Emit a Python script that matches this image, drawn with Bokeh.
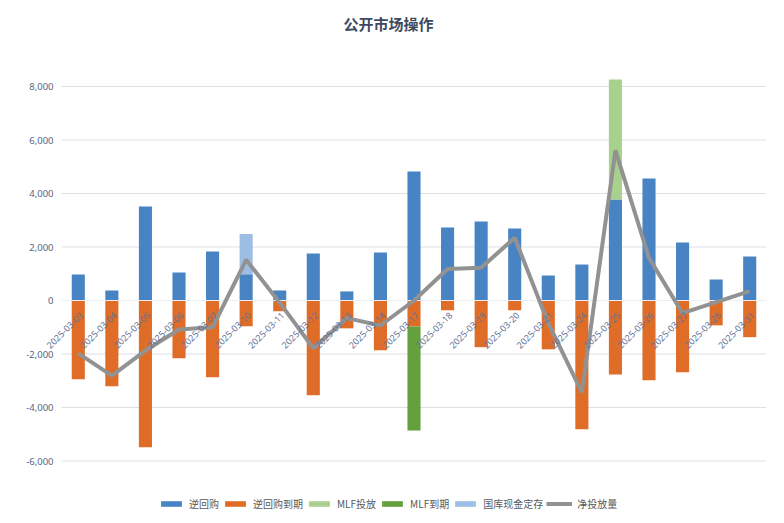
import math
from bokeh.plotting import figure
from bokeh.core.properties import value
from bokeh.models import (Range1d, Legend, LegendItem, Label, ColumnDataSource)
from bokeh.embed import file_html
from bokeh.resources import INLINE

dates = ["2025-03-03", "2025-03-04", "2025-03-05", "2025-03-06", "2025-03-07",
         "2025-03-10", "2025-03-11", "2025-03-12", "2025-03-13", "2025-03-14",
         "2025-03-17", "2025-03-18", "2025-03-19", "2025-03-20", "2025-03-21",
         "2025-03-24", "2025-03-25", "2025-03-26", "2025-03-27", "2025-03-28",
         "2025-03-31"]

# 逆回购
reverse_repo = [975, 375, 3515, 1045, 1830, 985, 375, 1760, 340, 1795, 4820, 2730,
                2950, 2690, 935, 1345, 3775, 4560, 2170, 785, 1645]
# 逆回购到期
repo_maturity = [-2940, -3205, -5485, -2160, -2870, -960, -400, -3540, -1040, -1860,
                 -970, -365, -1745, -365, -1825, -4810, -2765, -2980, -2680, -930, -1370]
# MLF投放
mlf_injection = [0, 0, 0, 0, 0, 0, 0, 0, 0, 0, 0, 0, 0, 0, 0, 0, 4485, 0, 0, 0, 0]
# MLF到期
mlf_maturity = [0, 0, 0, 0, 0, 0, 0, 0, 0, 0, -3890, 0, 0, 0, 0, 0, 0, 0, 0, 0, 0]
# 国库现金定存
treasury_deposit = [0, 0, 0, 0, 0, 1500, 0, 0, 0, 0, 0, 0, 0, 0, 0, 0, 0, 0, 0, 0, 0]
# 净投放量
net_injection = [-1975, -2810, -1870, -1085, -1000, 1520, -80, -1785, -660, -935, 0,
                 1175, 1225, 2345, -850, -3430, 5610, 1595, -475, -60, 350]

y_ticks = [-6000, -4000, -2000, 0, 2000, 4000, 6000, 8000]
y_tick_labels = ["-6,000", "-4,000", "-2,000", "0", "2,000", "4,000", "6,000", "8,000"]

n = len(dates)
idx = list(range(n))

src = ColumnDataSource(dict(i=idx, date=dates, rr=reverse_repo, rr_exp=repo_maturity,
                            mlf_in=mlf_injection, mlf_exp=mlf_maturity,
                            cash=treasury_deposit, net=net_injection))
tick_src = ColumnDataSource(dict(y=y_ticks, label=y_tick_labels))

BLUE = "#4884c3"
ORANGE = "#df6d27"
LGREEN = "#a9d18e"
DGREEN = "#64a03c"
LBLUE = "#9dbee4"
GRAY = "#929292"

W, H = 784, 523
RIGHT_BORDER = 18
PLOT_LEFT_PX = 61                       # where the category band begins
UNIT_PX = (W - RIGHT_BORDER - PLOT_LEFT_PX) / n
x_start = -0.5 - PLOT_LEFT_PX / UNIT_PX
x_end = n - 0.5

p = figure(x_range=Range1d(x_start, x_end), y_range=Range1d(-8336, 11215),
           width=W, height=H, output_backend="svg", toolbar_location=None,
           title=None, x_axis_location=None, y_axis_location=None,
           min_border_left=0, min_border_right=RIGHT_BORDER, min_border_top=0,
           min_border_bottom=0)
p.outline_line_color = None
p.background_fill_color = "white"
p.border_fill_color = "white"
p.xgrid.visible = False
p.ygrid.visible = False

# horizontal gridlines over the category band
p.segment(x0=-0.5, x1=n - 0.5, y0="y", y1="y", source=tick_src,
          line_color="#dcdfe6", line_width=1, level="underlay")
# y tick labels
p.text(x=-0.5 - 8 / UNIT_PX, y="y", text="label", source=tick_src,
       text_align="right", text_baseline="middle", text_font_size="9.5px",
       text_color="#56647f", text_font=value("Noto Sans"))

pos = p.vbar_stack(["rr", "mlf_in", "cash"], x="i", width=0.39, source=src,
                   color=[BLUE, LGREEN, LBLUE], line_color=None)
neg = p.vbar_stack(["rr_exp", "mlf_exp"], x="i", width=0.39, source=src,
                   color=[ORANGE, DGREEN], line_color=None)

p.segment(x0=-0.5, x1=n - 0.5, y0=0, y1=0, line_color="#eceef3", line_width=1)

ln = p.line(x="i", y="net", source=src, line_width=4, line_color=GRAY)

p.text(x="i", y=0, text="date", source=src, angle=math.pi / 4,
       text_align="right", text_baseline="middle", x_offset=3, y_offset=13,
       text_font_size="9px", text_color="#5f7297", text_font=value("Noto Sans"))

legend = Legend(items=[
    LegendItem(label="逆回购", renderers=[pos[0]]),
    LegendItem(label="逆回购到期", renderers=[neg[0]]),
    LegendItem(label="MLF投放", renderers=[pos[1]]),
    LegendItem(label="MLF到期", renderers=[neg[1]]),
    LegendItem(label="国库现金定存", renderers=[pos[2]]),
    LegendItem(label="净投放量", renderers=[ln]),
], orientation="horizontal", location=(158, 12), label_text_font_size="10px",
    label_text_font="Noto Sans CJK SC", label_text_color="#595959",
    glyph_width=26, glyph_height=7, label_standoff=5, spacing=3, padding=2,
    margin=0, label_height=12, border_line_color=None, background_fill_alpha=0)
p.add_layout(legend)

title = Label(x=388, y=500, x_units="screen", y_units="screen", text="公开市场操作",
              text_align="center", text_baseline="middle", text_font_size="15px",
              text_font_style="bold", text_color="#3f4a60", text_font="Noto Sans CJK SC")
p.add_layout(title)

open("out.html", "w").write(file_html(p, INLINE))
